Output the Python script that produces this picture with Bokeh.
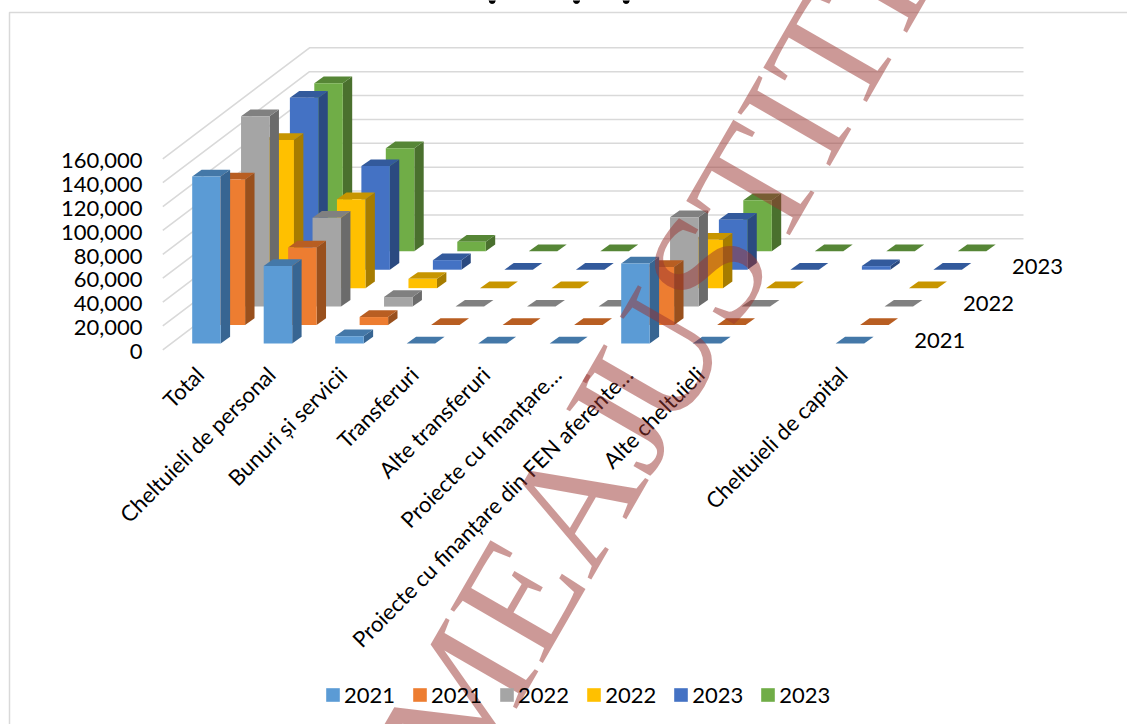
from bokeh.plotting import figure
from bokeh.models import Range1d, Legend, LegendItem
from bokeh.core.properties import value
from bokeh.embed import file_html
from bokeh.resources import INLINE
import math

categories = ["Total", "Cheltuieli de personal", "Bunuri și servicii", "Transferuri",
              "Alte transferuri", "Proiecte cu finanțare…",
              "Proiecte cu finanțare din FEN aferente…", "Alte cheltuieli", "",
              "Cheltuieli de capital"]
series_names = ["2021", "2021", "2022", "2022", "2023", "2023"]
depth_labels = ["2021", "2022", "2023"]
tick_values = [0, 20000, 40000, 60000, 80000, 100000, 120000, 140000, 160000]

s_2021_a = [140000, 65000, 6100, 0, 0, 0, 67000, 0, None, 0]
s_2021_b = [122000, 65000, 6700, 0, 0, 0, 48700, 0, None, 0]
s_2022_a = [159400, 74500, 8000, 0, 0, 0, 74800, 0, None, 0]
s_2022_b = [124200, 74500, 7800, 0, 0, 0, 40500, 0, None, 0]
s_2023_a = [144000, 86800, 8000, 0, 0, 0, 41900, 0, 3000, 0]
s_2023_b = [140700, 86300, 7900, 0, 0, 0, 42700, 0, 0, 0]
all_series = [s_2021_a, s_2021_b, s_2022_a, s_2022_b, s_2023_a, s_2023_b]

front = ["#5B9BD5", "#ED7D31", "#A5A5A5", "#FFC000", "#4472C4", "#70AD47"]
side = ["#376592", "#99501D", "#6B6B6B", "#A67C00", "#2B4A80", "#4A702E"]
top = ["#4478A8", "#B85E22", "#808080", "#C79500", "#335A9C", "#568636"]

W, H = 1127, 724
CAT_PX = 71.5
PX_PER_UNIT = 191 / 160000
X0_PX, Y0_PX = 191.7, 343.0


def xpx(px):
    return (px - X0_PX) / CAT_PX


def ypx(py):
    return (Y0_PX - py) / PX_PER_UNIT


xu = 1 / CAT_PX          # one pixel in category units
yu = 1 / PX_PER_UNIT     # one pixel in value units
BAR_W = 28.5 * xu
SIDE_DX, SIDE_DY = 9.4 * xu, 6.7 * yu
ROW_DX, ROW_DY = 24.42 * xu, 18.45 * yu

p = figure(width=W, height=H, output_backend="svg", toolbar_location=None,
           x_range=Range1d(xpx(0), xpx(W)),
           y_range=Range1d(ypx(H), ypx(0)),
           min_border=0, outline_line_color=None, background_fill_color="white")
p.axis.visible = False
p.grid.visible = False

# chart-area border
p.line([xpx(9), xpx(9), xpx(W)], [ypx(H), ypx(12), ypx(12)],
       line_color="#D9D9D9", line_width=1.5)

# the clipped title's descenders at the very top edge
p.scatter([xpx(491.7), xpx(576), xpx(625.7)], [ypx(0)] * 3, size=6, color="#000000")

# walls: gridlines
WALL_FRONT_X = xpx(162.3)
WALL_BACK_X = xpx(309)
WALL_RIGHT_X = xpx(1023)
WALL_FRONT_Y = -6.3 * yu
WALL_BACK_Y = 104.7 * yu
for v in tick_values:
    p.line([WALL_FRONT_X, WALL_BACK_X, WALL_RIGHT_X],
           [v + WALL_FRONT_Y, v + WALL_BACK_Y, v + WALL_BACK_Y],
           line_color="#D9D9D9", line_width=1.6)

# bars, back row first
front_renderers = {}
for s in range(5, -1, -1):
    fx, fy, sx, sy, tx, ty = [], [], [], [], [], []
    for c, v in enumerate(all_series[s]):
        if v is None:
            continue
        x0 = c + s * ROW_DX
        x1 = x0 + BAR_W
        b = s * ROW_DY
        t = b + v
        fx.append([x0, x1, x1, x0]); fy.append([b, b, t, t])
        sx.append([x1, x1 + SIDE_DX, x1 + SIDE_DX, x1])
        sy.append([b, b + SIDE_DY, t + SIDE_DY, t])
        tx.append([x0, x1, x1 + SIDE_DX, x0 + SIDE_DX])
        ty.append([t, t, t + SIDE_DY, t + SIDE_DY])
    p.patches(sx, sy, fill_color=side[s], line_color=None)
    p.patches(tx, ty, fill_color=top[s], line_color=None)
    front_renderers[s] = p.patches(fx, fy, fill_color=front[s], line_color=None)

FONT = value("Lato")
SIZE = "22px"
# value-axis tick labels
p.text([xpx(142)] * len(tick_values), [v - 8 * yu for v in tick_values],
       text=[f"{v:,}" for v in tick_values], text_align="right", text_baseline="middle",
       text_font=FONT, text_font_size=SIZE, text_color="#000000")

# category labels
lx = [c + 7.5 * xu for c, n in enumerate(categories) if n]
ly = [ypx(370) for n in categories if n]
p.text(lx, ly, text=[n for n in categories if n], angle=45, angle_units="deg",
       text_align="right", text_baseline="middle",
       text_font=FONT, text_font_size=SIZE, text_color="#000000")

# depth-axis labels
p.text([10 + 7.0 * xu + i * 2 * ROW_DX for i in range(3)],
       [3.0 * yu + i * 2 * ROW_DY for i in range(3)],
       text=depth_labels, text_align="left", text_baseline="middle",
       text_font=FONT, text_font_size=SIZE, text_color="#000000")

# legend
legend = Legend(items=[LegendItem(label=value(series_names[i]), renderers=[front_renderers[i]])
                       for i in range(6)],
                orientation="horizontal", location=(324, 16), border_line_color=None,
                background_fill_alpha=0, label_text_font="Lato", label_text_font_size=SIZE,
                label_text_color="#000000", glyph_width=17, glyph_height=17,
                label_standoff=3, spacing=16, padding=6, margin=0)
p.add_layout(legend)

# watermark
WM = "#993330"
wm_dx, wm_dy = math.cos(math.radians(60)), math.sin(math.radians(60))
WM_X, WM_Y = 761, 174
for txt, t0 in [("MEAJ", -682), ("USTITIE", -272)]:
    p.text([xpx(WM_X + t0 * wm_dx)], [ypx(WM_Y - t0 * wm_dy)], text=[txt], angle=60,
           angle_units="deg", text_align="left", text_baseline="alphabetic",
           text_font=value("Liberation Serif"), text_font_size="163px",
           text_color=WM, text_alpha=0.5, level="overlay")

open("out.html", "w").write(file_html(p, INLINE))
